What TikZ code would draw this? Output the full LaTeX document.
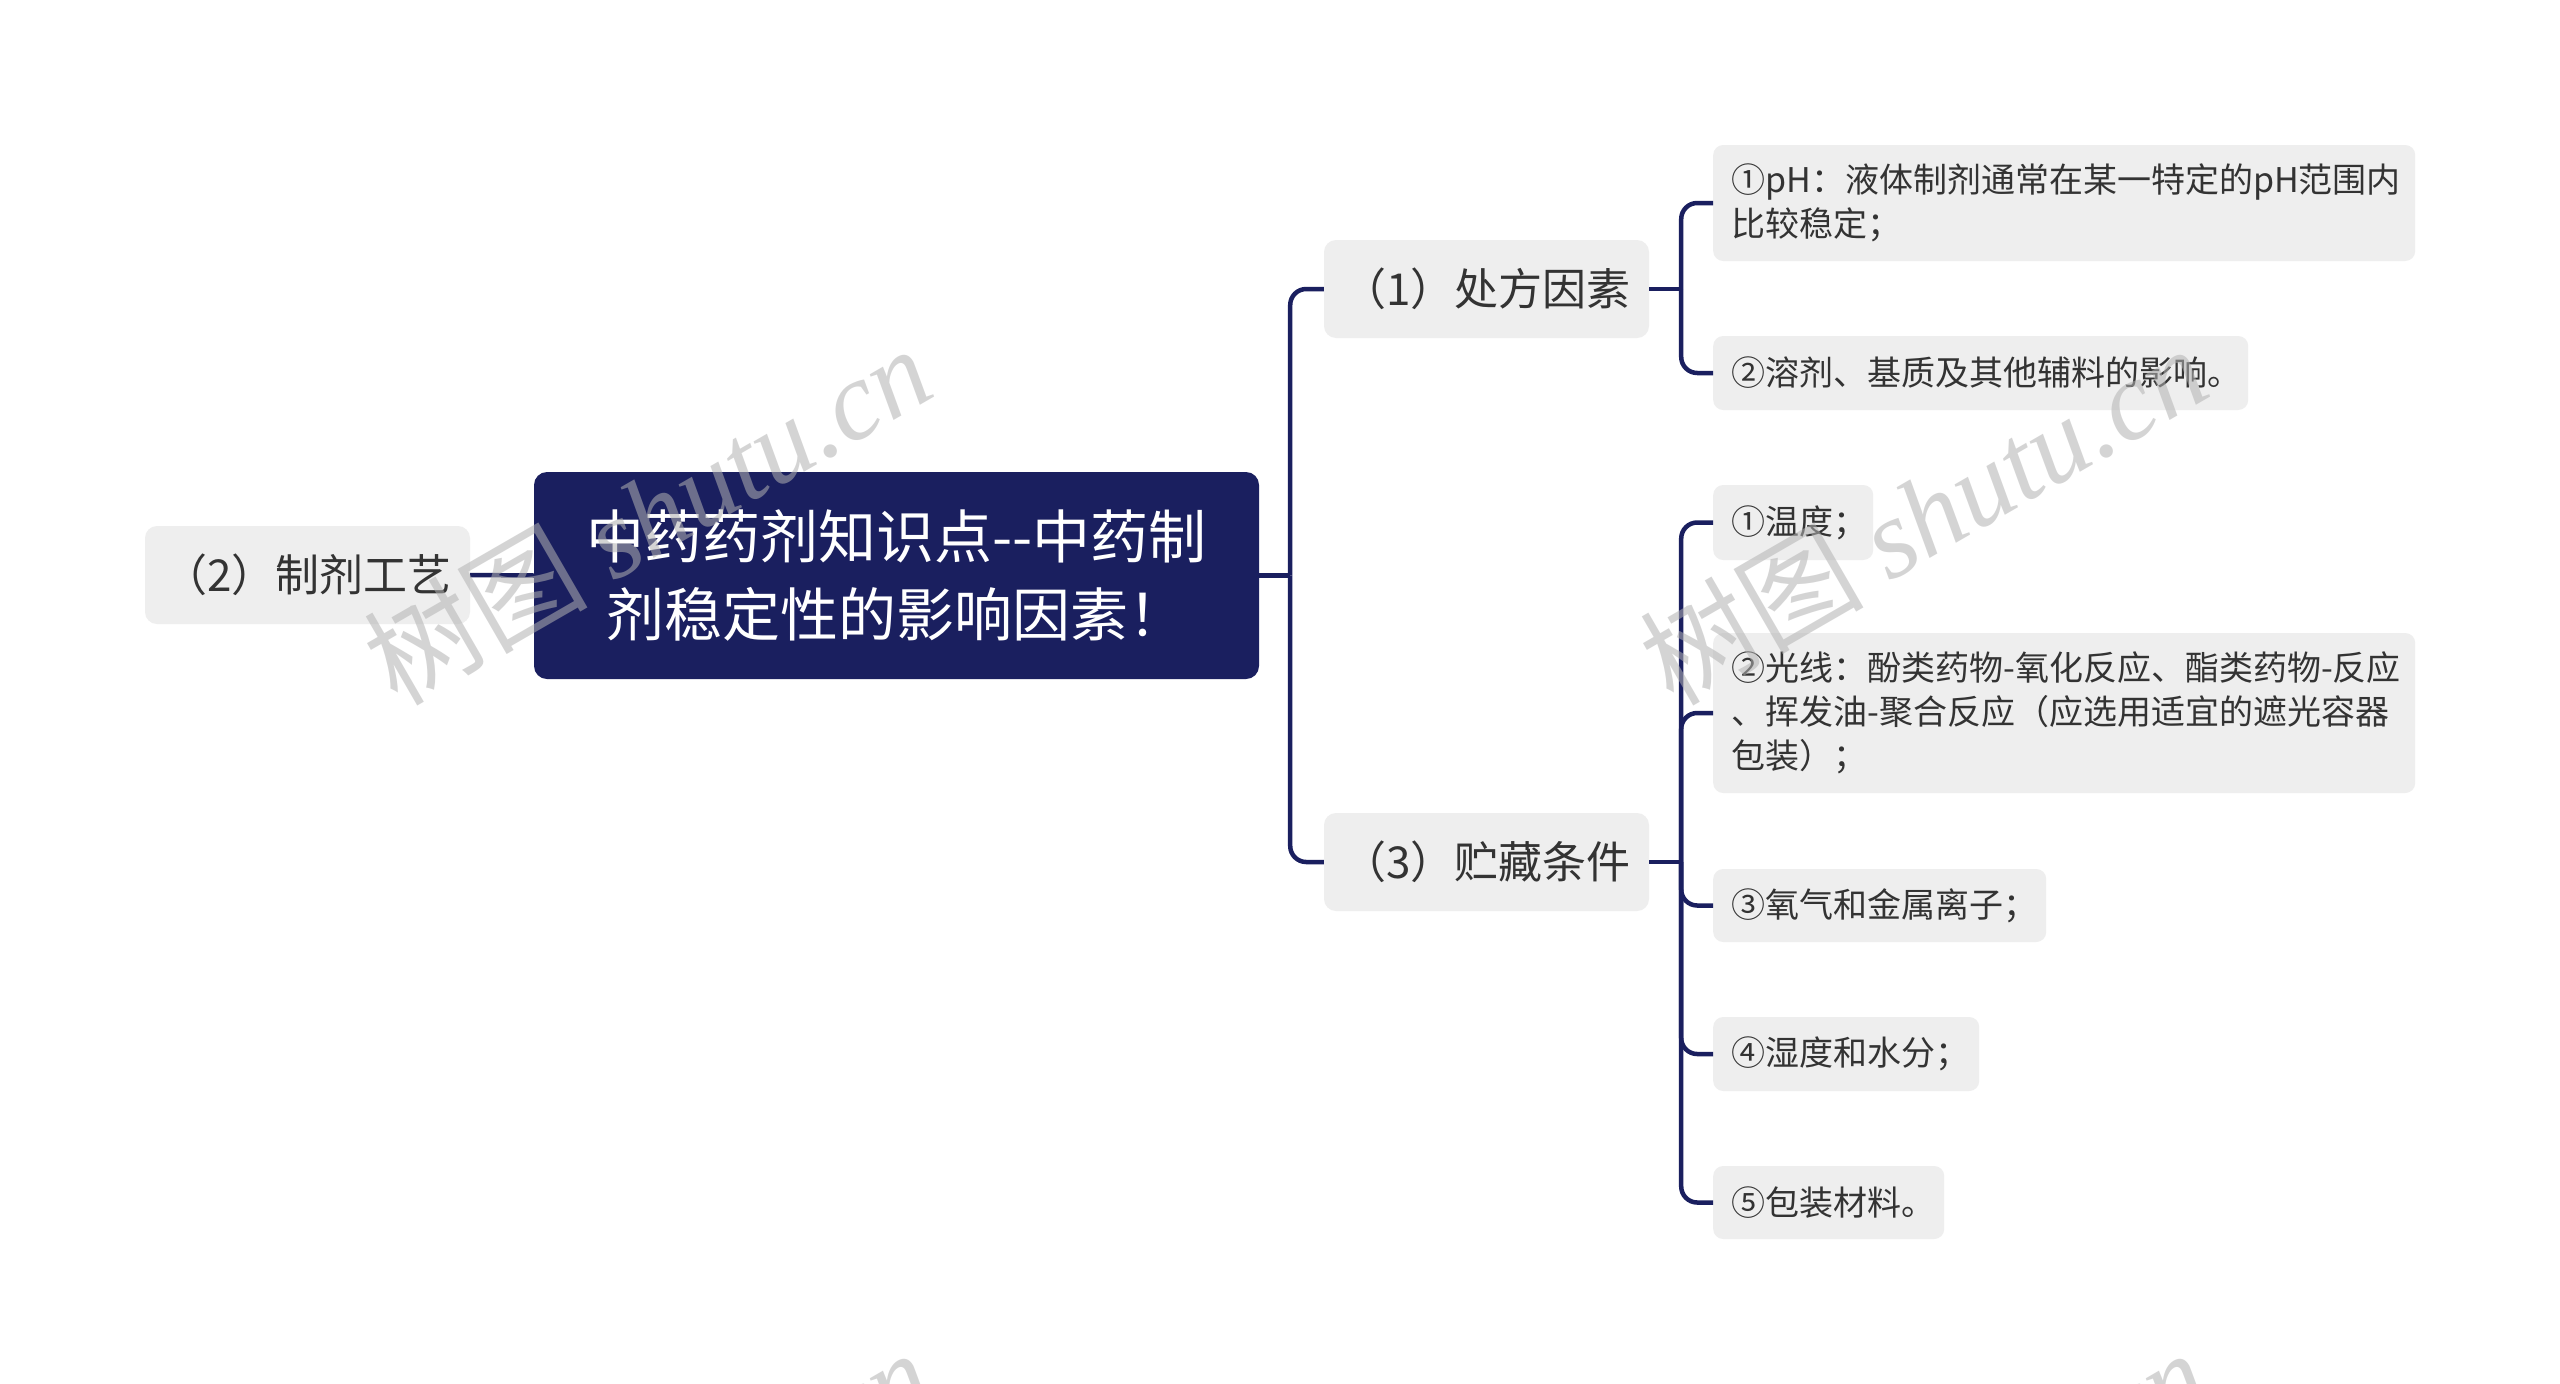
\documentclass[tikz,border=0pt]{standalone}
\usepackage{fontspec}
\setmainfont{Noto Sans CJK SC}
\newfontfamily\wmserif{Liberation Serif}
\newfontfamily\cjk{Noto Sans CJK SC}
\definecolor{navy}{HTML}{1A1F5F}
\definecolor{boxgrey}{HTML}{EEEEEE}
\definecolor{txt}{HTML}{333333}
\begin{document}
\begin{tikzpicture}[x=1pt,y=-1pt,
  conn/.style={draw=navy, line width=4.5pt, rounded corners=16pt},
  leaf/.style={fill=boxgrey, rounded corners=10pt, inner xsep=18pt, inner ysep=0pt, anchor=west, align=left, text=txt, font=\fontsize{34}{44}\selectfont},
  branch/.style={fill=boxgrey, rounded corners=12pt, minimum width=325pt, minimum height=98pt, inner sep=0pt, text=txt, font=\fontsize{44}{50}\selectfont},
  wm/.style={text=black!30, opacity=0.55, rotate=30, font=\fontsize{112}{120}\selectfont}]
\clip (0,0) rectangle (2560,1384);
\fill[white] (0,0) rectangle (2560,1384);

\node[fill=navy, rounded corners=13pt, minimum width=725pt, minimum height=207pt, inner sep=0pt, align=center, text=white, font=\fontsize{58}{78}\selectfont] (root) at (896.5,575.5) {\mbox{中药药剂知识点-{}-中药制}\\\mbox{剂稳定性的影响因素！}};

\node[branch] (b2) at (307.5,575) {（2）制剂工艺};
\node[branch] (b1) at (1486.5,289) {（1）处方因素};
\node[branch] (b3) at (1486.5,862) {（3）贮藏条件};

\node[leaf, text width=666pt, minimum height=116pt] (l11) at (1713,203) {\mbox{①pH：液体制剂通常在某一特定的pH范围内}\\\mbox{比较稳定；}};
\node[leaf, text width=499pt, minimum height=74pt] (l12) at (1713,373) {\mbox{②溶剂、基质及其他辅料的影响。}};
\node[leaf, text width=124pt, minimum height=75pt] (l31) at (1713,522.5) {\mbox{①温度；}};
\node[leaf, text width=666pt, minimum height=160pt] (l32) at (1713,713) {\mbox{②光线：酚类药物-氧化反应、酯类药物-反应}\\\mbox{、挥发油-聚合反应（应选用适宜的遮光容器}\\\mbox{包装）；}};
\node[leaf, text width=297pt, minimum height=73pt] (l33) at (1713,905.5) {\mbox{③氧气和金属离子；}};
\node[leaf, text width=230pt, minimum height=74pt] (l34) at (1713,1054) {\mbox{④湿度和水分；}};
\node[leaf, text width=195pt, minimum height=73pt] (l35) at (1713,1202.5) {\mbox{⑤包装材料。}};

\draw[conn] (b2.east) -- (root.west);
\path (root.east) ++(31,0) coordinate (j0);
\draw[conn] (root.east) -- (j0);
\draw[conn] (j0) |- (b1.west);
\draw[conn] (j0) |- (b3.west);

\path (b1.east) ++(32,0) coordinate (j1);
\draw[conn] (b1.east) -- (j1);
\draw[conn] (j1) |- (l11.west);
\draw[conn] (j1) |- (l12.west);

\path (b3.east) ++(32,0) coordinate (j3);
\draw[conn] (b3.east) -- (j3);
\draw[conn] (j3) |- (l31.west);
\draw[conn] (j3) |- (l32.west);
\draw[conn] (j3) |- (l33.west);
\draw[conn] (j3) |- (l34.west);
\draw[conn] (j3) |- (l35.west);

\node[wm] (wm1) at (647,514) {{\cjk 树图} {\wmserif\itshape shutu.cn}};
\node[wm] (wm2) at (1923,514) {{\cjk 树图} {\wmserif\itshape shutu.cn}};
\node[wm] (wm3) at (647,1518) {{\cjk 树图} {\wmserif\itshape shutu.cn}};
\node[wm] (wm4) at (1923,1518) {{\cjk 树图} {\wmserif\itshape shutu.cn}};
\end{tikzpicture}
\end{document}
